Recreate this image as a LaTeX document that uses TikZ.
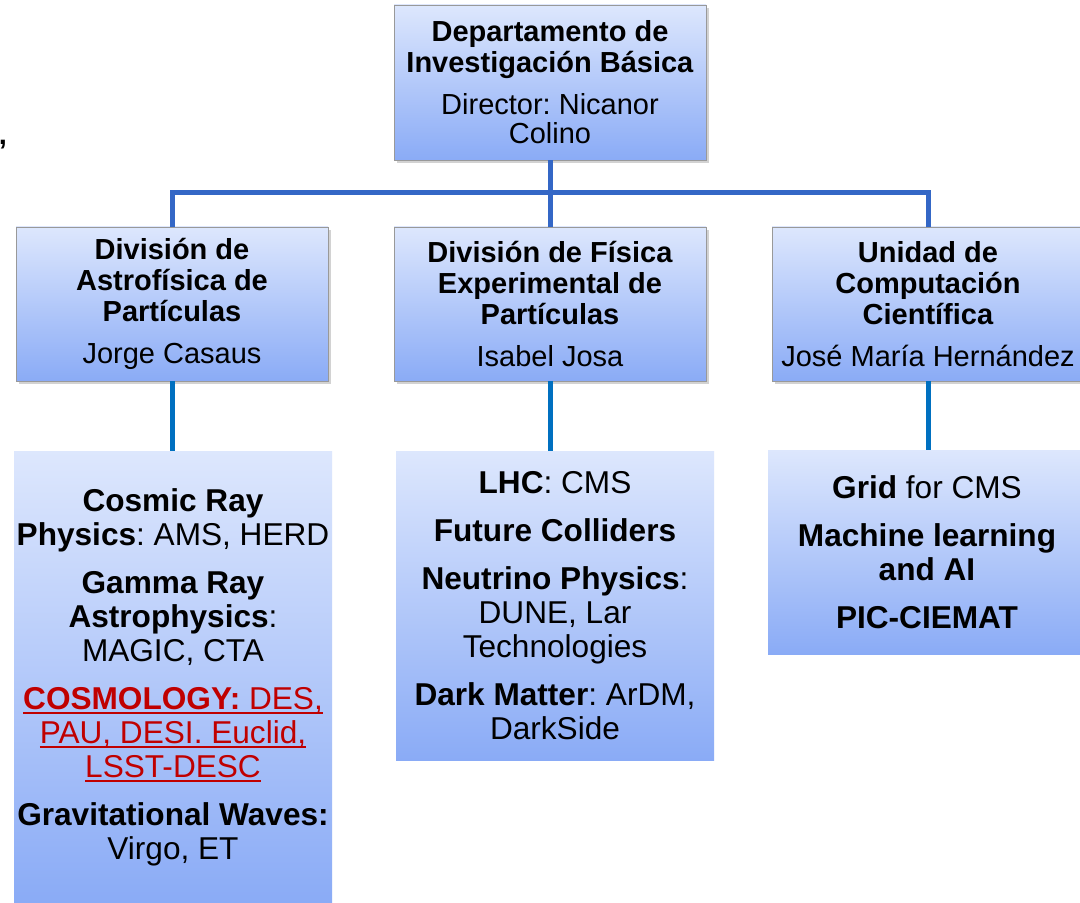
\documentclass[tikz,border=0pt]{standalone}
\usepackage{fontspec}
\setmainfont{Liberation Sans}
\usetikzlibrary{shadows}
\definecolor{boxtop}{RGB}{221,231,253}
\definecolor{boxbot}{RGB}{138,171,246}
\definecolor{busblue}{RGB}{52,103,198}
\definecolor{feedblue}{RGB}{0,112,192}
\definecolor{cosmored}{RGB}{192,0,0}

\newsavebox{\cosmobox}
\newcommand{\cosmoline}[1]{\color{cosmored}\sbox{\cosmobox}{#1}\rlap{\rule[-3.5pt]{\wd\cosmobox}{1.2pt}}\usebox{\cosmobox}}

\tikzset{
  headbox/.style={draw=gray!80, line width=0.6pt, top color=boxtop, bottom color=boxbot,
    drop shadow={shadow xshift=2.5pt, shadow yshift=-2.5pt, opacity=0.35},
    align=center, inner sep=0pt, minimum width=234pt, minimum height=115.5pt,
    font=\fontsize{21.75}{23.25}\selectfont\frenchspacing},
  listbox/.style={top color=boxtop, bottom color=boxbot, align=center, inner sep=0pt,
    minimum width=238.5pt, font=\fontsize{23.7}{25.5}\selectfont\frenchspacing},
  bus/.style={busblue, line width=3.75pt},
  feed/.style={feedblue, line width=3.75pt},
}

\begin{document}
\begin{tikzpicture}[x=0.75pt, y=-0.75pt]
  \fill[white] (0,0) rectangle (1080,902);
  \path[use as bounding box] (0,0) rectangle (1080,902);
  \clip (0,0) rectangle (1080,902);

  % department and its three units
  \node[headbox, minimum height=116.25pt] (dept) at (550,82.5)
    {\textbf{Departamento de}\\\textbf{Investigación Básica}\\[8.25pt]Director: Nicanor\\[-1.5pt]Colino};
  \node[headbox] (astro) at (172,304)
    {\textbf{División de}\\\textbf{Astrofísica de}\\\textbf{Partículas}\\[8.25pt]Jorge Casaus};
  \node[headbox] (phys) at (550,304)
    {\textbf{División de Física}\\\textbf{Experimental de}\\\textbf{Partículas}\\[8.25pt]Isabel Josa};
  \node[headbox] (comp) at (928,304)
    {\textbf{Unidad de}\\\textbf{Computación}\\\textbf{Científica}\\[8.25pt]José María Hernández};

  \node[font=\fontsize{21.75}{23.25}\selectfont\bfseries] (comma) at (3,145) {,};

  % research lines
  \node[listbox, minimum height=339pt] (astrolist) at (173,677)
    {\textbf{Cosmic Ray}\\\textbf{Physics}: AMS, HERD\\[10.5pt]
     \textbf{Gamma Ray}\\\textbf{Astrophysics}:\\MAGIC, CTA\\[10.5pt]
     \cosmoline{\textbf{COSMOLOGY:} DES,}\\\cosmoline{PAU, DESI. Euclid,}\\\cosmoline{LSST-DESC}\\[10.5pt]
     \textbf{Gravitational Waves:}\\Virgo, ET};
  \node[listbox, minimum height=231.75pt] (physlist) at (555,605.5)
    {\textbf{LHC}: CMS\\[10.5pt]\textbf{Future Colliders}\\[10.5pt]
     \textbf{Neutrino Physics}:\\DUNE, Lar\\Technologies\\[10.5pt]
     \textbf{Dark Matter}: ArDM,\\DarkSide};
  \node[listbox, minimum height=153pt] (complist) at (927,552)
    {\textbf{Grid} for CMS\\[10.5pt]\textbf{Machine learning}\\\textbf{and AI}\\[10.5pt]\textbf{PIC-CIEMAT}};

  % connectors
  \coordinate (bus) at (550,193);
  \draw[bus] (dept.south) -- (bus);
  \draw[bus] (astro.north) |- (bus) -| (comp.north);
  \draw[bus] (phys.north) -- (bus);

  \draw[feed] (astro.south) -- (astro.south |- astrolist.north);
  \draw[feed] (phys.south) -- (phys.south |- physlist.north);
  \draw[feed] (comp.south) -- (comp.south |- complist.north);
\end{tikzpicture}
\end{document}
